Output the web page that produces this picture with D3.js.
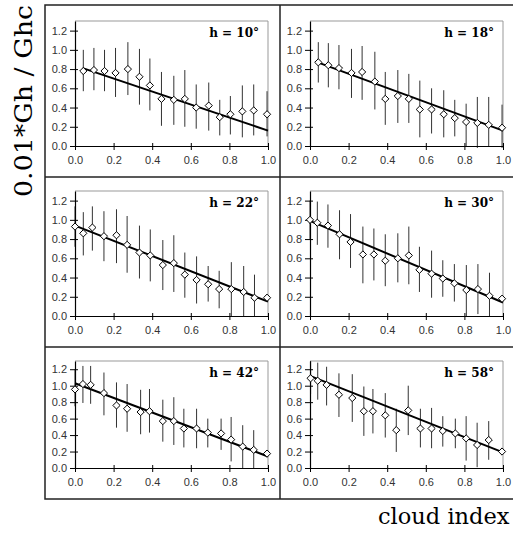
<!DOCTYPE html>
<html>
<head>
<meta charset="utf-8">
<script src="https://cdn.jsdelivr.net/npm/d3@7"></script>
<style>
body { margin: 0; background: #fff; }
svg { display: block; }
</style>
</head>
<body>
<svg id="chart" width="513" height="534"></svg>
<script>
// panel labels (solar elevation)
var heights = ['10', '18', '22', '30', '42', '58'];

var xTicks = [0, 0.2, 0.4, 0.6, 0.8, 1.0];
var yTicks = [0, 0.2, 0.4, 0.6, 0.8, 1.0, 1.2];

// h = 10
var h10_x  = [0.043, 0.098, 0.153, 0.21, 0.274, 0.334, 0.388, 0.448, 0.512, 0.569, 0.628, 0.693, 0.75, 0.805, 0.867, 0.926, 0.995];
var h10_y  = [0.78, 0.79, 0.78, 0.76, 0.80, 0.72, 0.63, 0.49, 0.48, 0.49, 0.40, 0.42, 0.30, 0.33, 0.36, 0.37, 0.33];
var h10_hi = [1.00, 1.02, 1.00, 1.02, 1.08, 1.01, 0.91, 0.77, 0.73, 0.79, 0.64, 0.66, 0.48, 0.52, 0.63, 0.64, 0.57];
var h10_lo = [0.57, 0.58, 0.57, 0.51, 0.53, 0.43, 0.37, 0.21, 0.22, 0.20, 0.18, 0.16, 0.11, 0.12, 0.09, 0.11, 0.10];
var h10_fit = [[0.04, 0.81], [1.0, 0.16]];

// h = 18
var h18_x  = [0.043, 0.095, 0.15, 0.215, 0.27, 0.336, 0.39, 0.455, 0.512, 0.569, 0.63, 0.693, 0.75, 0.809, 0.867, 0.926, 0.995];
var h18_y  = [0.87, 0.84, 0.81, 0.76, 0.77, 0.67, 0.49, 0.52, 0.49, 0.38, 0.38, 0.33, 0.29, 0.25, 0.24, 0.22, 0.19];
var h18_hi = [1.08, 1.07, 1.05, 1.01, 1.04, 0.98, 0.77, 0.79, 0.75, 0.68, 0.60, 0.58, 0.48, 0.44, 0.51, 0.51, 0.43];
var h18_lo = [0.66, 0.61, 0.59, 0.50, 0.48, 0.38, 0.22, 0.24, 0.24, 0.09, 0.13, 0.09, 0.10, 0.0, -0.02, 0.0, -0.02];
var h18_fit = [[0.04, 0.87], [1.0, 0.16]];

// h = 22
var h22_x  = [0.0, 0.043, 0.09, 0.15, 0.215, 0.27, 0.334, 0.39, 0.455, 0.512, 0.569, 0.63, 0.69, 0.747, 0.81, 0.874, 0.93, 0.995];
var h22_y  = [0.93, 0.86, 0.92, 0.83, 0.84, 0.74, 0.66, 0.63, 0.53, 0.55, 0.43, 0.375, 0.33, 0.28, 0.28, 0.25, 0.19, 0.19];
var h22_hi = [1.14, 1.08, 1.14, 1.09, 1.11, 1.04, 0.94, 0.90, 0.79, 0.84, 0.66, 0.62, 0.52, 0.47, 0.56, 0.52, 0.43, 0.19];
var h22_lo = [0.72, 0.63, 0.68, 0.57, 0.55, 0.45, 0.39, 0.36, 0.27, 0.25, 0.19, 0.13, 0.15, 0.08, 0.0, 0.0, 0.0, 0.19];
var h22_fit = [[0.0, 0.94], [1.0, 0.15]];

// h = 30
var h30_x  = [0.0, 0.038, 0.093, 0.153, 0.21, 0.274, 0.331, 0.39, 0.455, 0.512, 0.567, 0.63, 0.688, 0.748, 0.81, 0.87, 0.93, 0.995];
var h30_y  = [1.00, 0.97, 0.94, 0.85, 0.77, 0.64, 0.64, 0.575, 0.60, 0.63, 0.48, 0.44, 0.39, 0.34, 0.27, 0.28, 0.21, 0.18];
var h30_hi = [1.20, 1.19, 1.16, 1.10, 1.06, 0.93, 0.91, 0.85, 0.86, 0.93, 0.72, 0.68, 0.58, 0.54, 0.53, 0.54, 0.45, 0.18];
var h30_lo = [0.80, 0.74, 0.71, 0.59, 0.50, 0.34, 0.37, 0.31, 0.35, 0.33, 0.25, 0.19, 0.20, 0.15, 0.0, 0.02, 0.0, 0.18];
var h30_fit = [[0.0, 0.99], [1.0, 0.14]];

// h = 42
var h42_x  = [0.0, 0.041, 0.081, 0.15, 0.215, 0.27, 0.34, 0.386, 0.455, 0.512, 0.564, 0.63, 0.688, 0.757, 0.809, 0.869, 0.926, 0.995];
var h42_y  = [0.955, 1.02, 1.01, 0.91, 0.76, 0.72, 0.68, 0.69, 0.57, 0.57, 0.48, 0.48, 0.43, 0.42, 0.345, 0.26, 0.22, 0.175];
var h42_hi = [1.20, 1.24, 1.24, 1.16, 1.04, 1.02, 0.95, 0.96, 0.83, 0.86, 0.72, 0.72, 0.60, 0.60, 0.62, 0.52, 0.46, 0.175];
var h42_lo = [0.75, 0.79, 0.78, 0.64, 0.49, 0.44, 0.41, 0.43, 0.32, 0.28, 0.25, 0.24, 0.25, 0.22, 0.08, 0.0, 0.0, 0.175];
var h42_fit = [[0.0, 1.03], [1.0, 0.14]];

// h = 58
var h58_x  = [0.003, 0.04, 0.086, 0.15, 0.219, 0.279, 0.326, 0.39, 0.447, 0.509, 0.572, 0.63, 0.688, 0.753, 0.809, 0.866, 0.926, 0.995];
var h58_y  = [1.09, 1.06, 1.01, 0.89, 0.85, 0.69, 0.69, 0.64, 0.46, 0.70, 0.48, 0.48, 0.45, 0.42, 0.36, 0.28, 0.34, 0.20];
var h58_hi = [1.30, 1.28, 1.23, 1.15, 1.14, 0.99, 0.96, 0.91, 0.72, 1.00, 0.72, 0.73, 0.63, 0.60, 0.63, 0.55, 0.57, 0.20];
var h58_lo = [0.90, 0.83, 0.76, 0.62, 0.56, 0.39, 0.42, 0.37, 0.195, 0.40, 0.25, 0.24, 0.26, 0.24, 0.09, 0.01, 0.10, 0.20];
var h58_fit = [[0.0, 1.12], [1.0, 0.19]];

var panels = [
	{ h: heights[0], x: h10_x, y: h10_y, hi: h10_hi, lo: h10_lo, fit: h10_fit },
	{ h: heights[1], x: h18_x, y: h18_y, hi: h18_hi, lo: h18_lo, fit: h18_fit },
	{ h: heights[2], x: h22_x, y: h22_y, hi: h22_hi, lo: h22_lo, fit: h22_fit },
	{ h: heights[3], x: h30_x, y: h30_y, hi: h30_hi, lo: h30_lo, fit: h30_fit },
	{ h: heights[4], x: h42_x, y: h42_y, hi: h42_hi, lo: h42_lo, fit: h42_fit },
	{ h: heights[5], x: h58_x, y: h58_y, hi: h58_hi, lo: h58_lo, fit: h58_fit }
];

var svg = d3.select('#chart');

// layout of the 3 x 2 grid
var colLeft = [75, 310];
var plotW = 193;
var rowTop = [21, 191, 361];
var rowZero = [146, 316, 468];

var frameX = [45, 280, 516];
var frameY = [5, 177, 347, 499];

var frame = svg.append('g').attr('id', 'frame');
frame.append('rect')
	.attr('x', frameX[0]).attr('y', frameY[0])
	.attr('width', frameX[2] - frameX[0]).attr('height', frameY[3] - frameY[0])
	.attr('fill', 'none').attr('stroke', '#222').attr('stroke-width', 1.5);
frame.append('line')
	.attr('x1', frameX[1]).attr('x2', frameX[1])
	.attr('y1', frameY[0]).attr('y2', frameY[3])
	.attr('stroke', '#222').attr('stroke-width', 1.5);
for (var r = 1; r < 3; r++)
{
	frame.append('line')
		.attr('x1', frameX[0]).attr('x2', frameX[2])
		.attr('y1', frameY[r]).attr('y2', frameY[r])
		.attr('stroke', '#222').attr('stroke-width', 1.5);
}

function draw_panel(p, i)
{
	var col = i % 2, row = Math.floor(i / 2);
	var x = d3.scaleLinear().domain([0, 1]).range([colLeft[col], colLeft[col] + plotW]);
	var y = d3.scaleLinear().domain([0, 1.3]).range([rowZero[row], rowTop[row]]);

	var g = svg.append('g').attr('class', 'panel');

	// plot area outline (top and right in grey)
	g.append('path')
		.attr('d', 'M' + x(0) + ',' + y(1.3) + 'H' + x(1) + 'V' + y(0))
		.attr('fill', 'none').attr('stroke', '#999').attr('stroke-width', 1);

	// error bars
	g.append('g').selectAll('line')
		.data(p.x)
		.enter()
		.append('line')
			.attr('x1', function(d) { return x(d); })
			.attr('x2', function(d) { return x(d); })
			.attr('y1', function(d, k) { return y(p.hi[k]); })
			.attr('y2', function(d, k) { return y(p.lo[k]); })
			.attr('stroke', '#333').attr('stroke-width', 1);

	// fitted line
	var line = d3.line().x(function(d) { return x(d[0]); }).y(function(d) { return y(d[1]); });
	g.append('path')
		.datum(p.fit)
		.attr('d', line)
		.attr('fill', 'none').attr('stroke', '#000').attr('stroke-width', 2);

	// axes
	var xAxis = d3.axisBottom(x).tickValues(xTicks).tickFormat(d3.format('.1f')).tickSizeInner(4).tickSizeOuter(0).tickPadding(6);
	var yAxis = d3.axisLeft(y).tickValues(yTicks).tickFormat(d3.format('.1f')).tickSizeInner(5).tickSizeOuter(0).tickPadding(3);

	var gx = g.append('g').attr('transform', 'translate(0,' + y(0) + ')').call(xAxis);
	var gy = g.append('g').attr('transform', 'translate(' + x(0) + ',0)').call(yAxis);

	[gx, gy].forEach(function(a) {
		a.select('.domain').attr('stroke', '#000').attr('stroke-width', 1.2);
		a.selectAll('.tick line').attr('stroke', '#000');
		a.selectAll('.tick text')
			.attr('fill', '#333')
			.style('font-family', '"Liberation Sans", Arial, sans-serif')
			.style('font-size', '11px');
	});
	// cross ticks: extend inside the plot as well
	gx.selectAll('.tick line').attr('y1', -3);
	gy.selectAll('.tick line').attr('x1', 3);

	// markers
	var diamond = 'M0,-3.6L3.6,0L0,3.6L-3.6,0Z';
	g.append('g').selectAll('path')
		.data(p.x)
		.enter()
		.append('path')
			.attr('d', diamond)
			.attr('transform', function(d, k) { return 'translate(' + x(d) + ',' + y(p.y[k]) + ')'; })
			.attr('fill', '#fff').attr('stroke', '#000').attr('stroke-width', 1);

	// label
	g.append('text')
		.attr('x', x(1) - 9)
		.attr('y', y(1.3) + 16)
		.attr('text-anchor', 'end')
		.style('font-family', '"DejaVu Serif", serif')
		.style('font-weight', 'bold')
		.style('font-size', '12px')
		.text('h = ' + p.h + '\u00b0');
}

panels.forEach(draw_panel);

// axis titles
svg.append('text')
	.attr('transform', 'translate(32,101) rotate(-90)')
	.attr('text-anchor', 'middle')
	.attr('textLength', 192)
	.attr('lengthAdjust', 'spacingAndGlyphs')
	.style('font-family', '"DejaVu Serif", serif')
	.style('font-size', '24px')
	.text('0.01*Gh / Ghc');

svg.append('text')
	.attr('x', 378)
	.attr('y', 524)
	.style('font-family', '"DejaVu Serif", serif')
	.style('font-size', '22.5px')
	.text('cloud index');
</script>
</body>
</html>
